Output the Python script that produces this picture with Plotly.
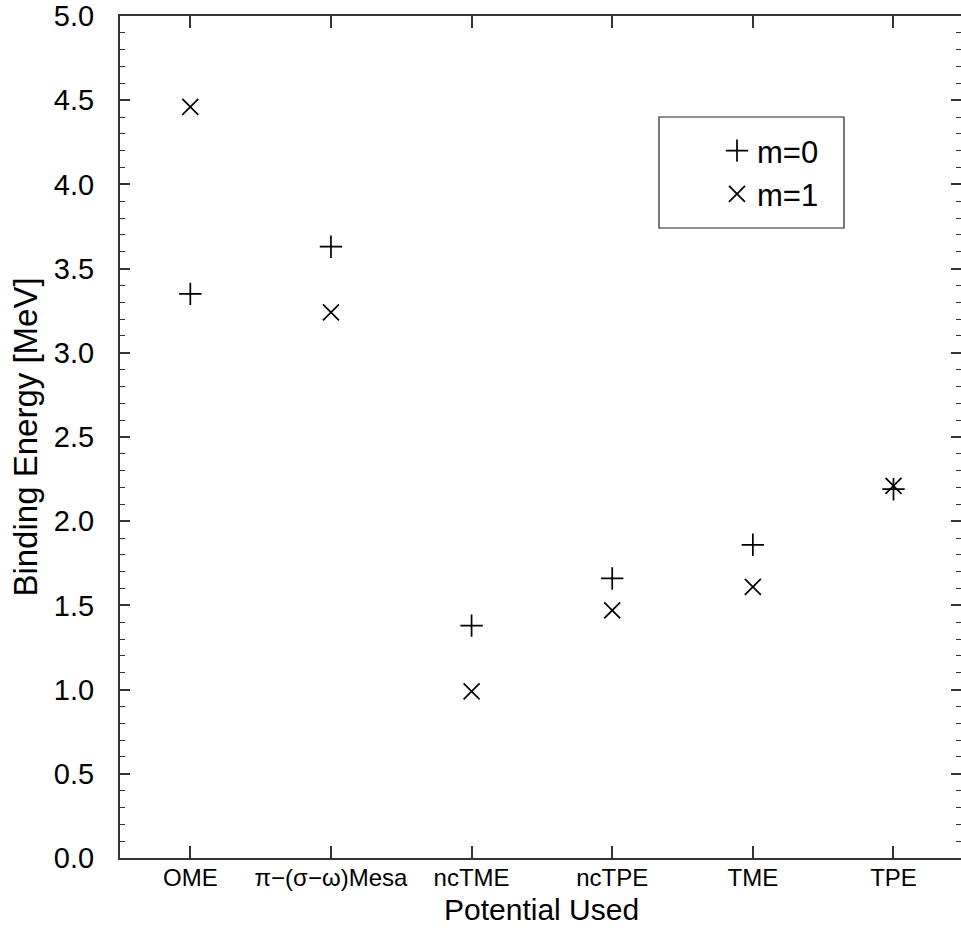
import plotly.graph_objects as go

categories = ["OME", "π−(σ−ω)Mesa", "ncTME", "ncTPE", "TME", "TPE"]
x_pos = [1, 2, 3, 4, 5, 6]
m0_values = [3.35, 3.63, 1.38, 1.66, 1.86, 2.19]
m1_values = [4.46, 3.24, 0.99, 1.47, 1.61, 2.21]
y_ticks = [0.0, 0.5, 1.0, 1.5, 2.0, 2.5, 3.0, 3.5, 4.0, 4.5, 5.0]
y_ticklabels = ["%.1f" % v for v in y_ticks]

W, H = 961, 938
ML, MR, MT, MB = 120, 0, 16, 80
FONT = "Liberation Sans, Arial, Helvetica, sans-serif"
AX = "#333333"

fig = go.Figure()
fig.add_trace(go.Scatter(
    x=x_pos, y=m0_values, mode="markers", name="m=0",
    marker=dict(symbol="cross-thin", size=16, color="black",
                line=dict(color="black", width=1.7)),
))
fig.add_trace(go.Scatter(
    x=x_pos, y=m1_values, mode="markers", name="m=1",
    marker=dict(symbol="x-thin", size=16, color="black",
                line=dict(color="black", width=1.7)),
))

pw = W - ML - MR
ph = H - MT - MB
def px2paper_x(px):
    return (px - ML) / pw
def px2paper_y(py):
    return (H - MB - py) / ph

# legend box
fig.add_shape(type="rect", xref="paper", yref="paper",
              x0=px2paper_x(659), x1=px2paper_x(844),
              y0=px2paper_y(228), y1=px2paper_y(117),
              line=dict(color="#222222", width=1.2), fillcolor="rgba(0,0,0,0)")

# x-axis title placed as annotation for exact position
fig.add_annotation(text="Potential Used", xref="paper", yref="paper",
                   x=px2paper_x(541), y=px2paper_y(909), xanchor="center", yanchor="middle",
                   showarrow=False, font=dict(family=FONT, size=30, color="black"))

fig.update_layout(
    width=W, height=H,
    margin=dict(l=ML, r=MR, t=MT, b=MB, pad=0, autoexpand=False),
    paper_bgcolor="white", plot_bgcolor="white",
    font=dict(family=FONT, color="black"),
    showlegend=True,
    legend=dict(
        x=px2paper_x(717), y=px2paper_y(124), xanchor="left", yanchor="top",
        bgcolor="rgba(0,0,0,0)", borderwidth=0,
        font=dict(family=FONT, size=31, color="black"),
        tracegroupgap=0, itemwidth=30,
    ),
    xaxis=dict(
        range=[0.5, 6.48], tickmode="array", tickvals=x_pos, ticktext=categories,
        showline=True, linecolor=AX, linewidth=2, mirror="ticks",
        ticks="inside", ticklen=12, tickwidth=1.5, tickcolor=AX,
        showgrid=False, zeroline=False, automargin=False,
        tickfont=dict(family=FONT, size=24, color="black"),
        ticklabelstandoff=-3,
    ),
    yaxis=dict(
        range=[0, 5], tickmode="array", tickvals=y_ticks, ticktext=y_ticklabels,
        showline=True, linecolor=AX, linewidth=2, mirror="ticks",
        ticks="inside", ticklen=10, tickwidth=1.5, tickcolor=AX,
        minor=dict(dtick=0.1, ticks="inside", ticklen=5, tickwidth=1, tickcolor=AX),
        showgrid=False, zeroline=False, automargin=False,
        tickfont=dict(family=FONT, size=29, color="black"),
        ticklabeloverflow="allow",
        ticklabelstandoff=18,
        title=dict(text="Binding Energy [MeV]", font=dict(family=FONT, size=33, color="black"),
                   standoff=6),
    ),
)

fig.write_html(
    "out.html",
    config={"displayModeBar": False},
    post_script="document.body.style.margin='0';document.body.style.overflow='hidden';",
)
